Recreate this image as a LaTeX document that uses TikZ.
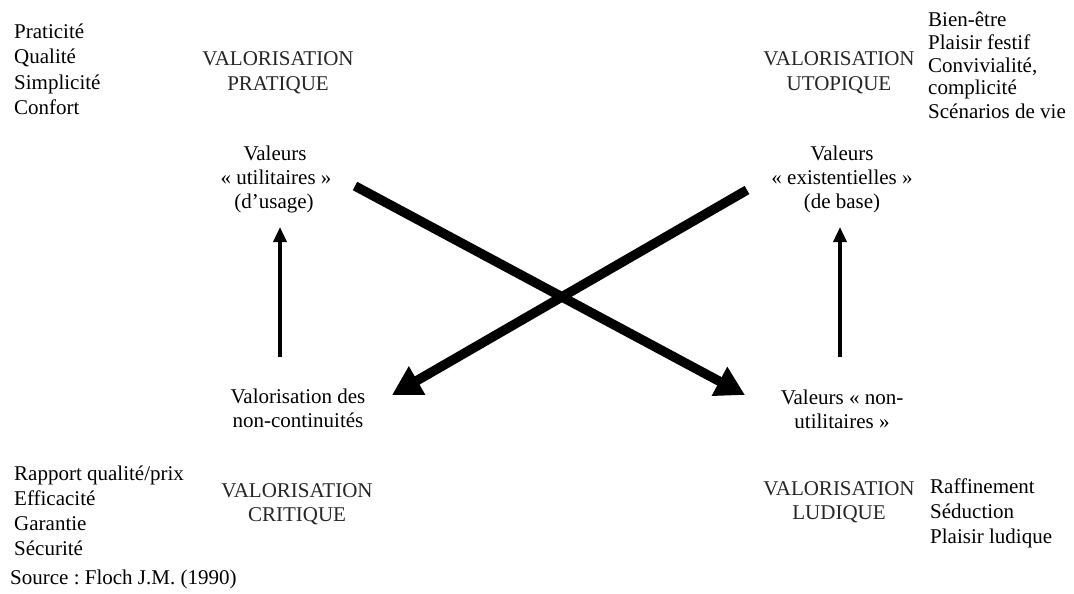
\documentclass[tikz,border=0pt]{standalone}
\usepackage{fontspec}
\setmainfont{Liberation Serif}
\usetikzlibrary{arrows.meta}
\frenchspacing
\begin{document}
\begin{tikzpicture}[x=1pt,y=-1pt,
  txt/.style={anchor=base, inner sep=0pt, font=\fontsize{21}{24}\selectfont},
  lst/.style={anchor=base west, inner sep=0pt, font=\fontsize{21}{24}\selectfont},
  head/.style={txt, text=black!85},
  bigarrow/.style={line width=9.5pt, -{Triangle[length=29pt,width=31pt]}},
  smallarrow/.style={line width=3.5pt, -{Triangle[length=15pt,width=13pt]}}]
\path[use as bounding box, fill=white] (0,0) rectangle (1074,594);

% top-left list
\node[lst] (pl1) at (14,39) {Praticité};
\node[lst] (pl2) at (14,64) {Qualité};
\node[lst] (pl3) at (14,89) {Simplicité};
\node[lst] (pl4) at (14,114) {Confort};
% top-right list
\node[lst] (ul1) at (928,27) {Bien-être};
\node[lst] (ul2) at (928,50) {Plaisir festif};
\node[lst] (ul3) at (928,73) {Convivialité,};
\node[lst] (ul4) at (928,95) {complicité};
\node[lst] (ul5) at (928,118) {Scénarios de vie};
% bottom-left list
\node[lst] (cl1) at (14,480) {Rapport qualité/prix};
\node[lst] (cl2) at (14,505) {Efficacité};
\node[lst] (cl3) at (14,530) {Garantie};
\node[lst] (cl4) at (14,555) {Sécurité};
% bottom-right list
\node[lst] (ll1) at (930,493) {Raffinement};
\node[lst] (ll2) at (930,518) {Séduction};
\node[lst] (ll3) at (930,543) {Plaisir ludique};

% headings
\node[head] (hp1) at (278,66) {VALORISATION};
\node[head] (hp2) at (278,90) {PRATIQUE};
\node[head] (hu1) at (839,66) {VALORISATION};
\node[head] (hu2) at (839,90) {UTOPIQUE};
\node[head] (hc1) at (297,497) {VALORISATION};
\node[head] (hc2) at (297,521) {CRITIQUE};
\node[head] (hl1) at (839,495) {VALORISATION};
\node[head] (hl2) at (839,519) {LUDIQUE};

% value labels
\node[txt] (vu1) at (275,160) {Valeurs};
\node[txt] (vu2) at (276,184) {« utilitaires »};
\node[txt] (vu3) at (274,208) {(d’usage)};
\node[txt] (ve1) at (842,160) {Valeurs};
\node[txt] (ve2) at (842,184) {« existentielles »};
\node[txt] (ve3) at (842,208) {(de base)};
\node[txt] (vn1) at (298,403) {Valorisation des};
\node[txt] (vn2) at (298,427) {non-continuités};
\node[txt] (vz1) at (842,404) {Valeurs « non-};
\node[txt] (vz2) at (842,428) {utilitaires »};

% source
\node[anchor=base west, inner sep=0pt, font=\fontsize{21}{24}\selectfont] (src) at (10,584) {Source : Floch J.M. (1990)};

% connector endpoints
\coordinate (la) at (280,357);
\coordinate (lb) at (280,227);
\coordinate (ra) at (840,357);
\coordinate (rb) at (840,227);
\coordinate (d1a) at (355,186);
\coordinate (d1b) at (745,395);
\coordinate (d2a) at (747,190);
\coordinate (d2b) at (392,395);

\draw[smallarrow] (la) -- (lb);
\draw[smallarrow] (ra) -- (rb);
\draw[bigarrow] (d1a) -- (d1b);
\draw[bigarrow] (d2a) -- (d2b);
\end{tikzpicture}
\end{document}
